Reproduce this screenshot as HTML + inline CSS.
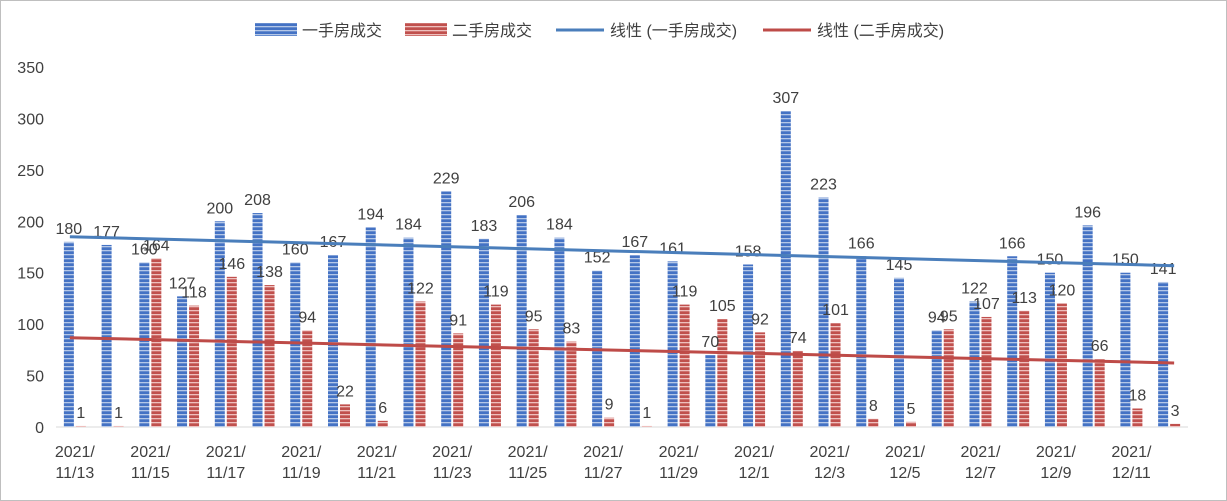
<!DOCTYPE html>
<html><head><meta charset="utf-8">
<style>
body{margin:0;background:#fff;}
svg{display:block;font-family:"Liberation Sans","Noto Sans CJK SC",sans-serif;}
</style></head>
<body>
<svg id="chart" width="1227" height="501" viewBox="0 0 1227 501">
<defs>
<pattern id="pb" width="4" height="4" patternUnits="userSpaceOnUse"><rect width="4" height="4" fill="#4472c4"/><rect y="2" width="4" height="1.3" fill="#b4c7e7"/></pattern>
<pattern id="pr" width="4" height="4" patternUnits="userSpaceOnUse"><rect width="4" height="4" fill="#c0504d"/><rect y="2" width="4" height="1.3" fill="#eebfbd"/></pattern>
</defs>
<rect x="0.5" y="0.5" width="1226" height="500" fill="#fff" stroke="#bfbfbf"/>
<g id="legend" font-size="16" fill="#404040">
<rect x="255" y="23" width="42" height="13" fill="url(#pb)"/>
<text x="302" y="36">一手房成交</text>
<rect x="405" y="23" width="42" height="13" fill="url(#pr)"/>
<text x="452" y="36">二手房成交</text>
<line x1="556" y1="30" x2="604" y2="30" stroke="#4a7ebb" stroke-width="3"/>
<text x="610" y="36">线性 (一手房成交)</text>
<line x1="763" y1="30" x2="811" y2="30" stroke="#be4b48" stroke-width="3"/>
<text x="817" y="36">线性 (二手房成交)</text>
</g>
<g id="plot"></g>
</svg>
<script>
const categories=["11/13","11/14","11/15","11/16","11/17","11/18","11/19","11/20","11/21","11/22","11/23","11/24","11/25","11/26","11/27","11/28","11/29","11/30","12/1","12/2","12/3","12/4","12/5","12/6","12/7","12/8","12/9","12/10","12/11","12/12"];
const firstHand=[180,177,160,127,200,208,160,167,194,184,229,183,206,184,152,167,161,70,158,307,223,166,145,94,122,166,150,196,150,141];
const secondHand=[1,1,164,118,146,138,94,22,6,122,91,119,95,83,9,1,119,105,92,74,101,8,5,95,107,113,120,66,18,3];
const yTicks=[0,50,100,150,200,250,300,350];
const NS="http://www.w3.org/2000/svg";
const g=document.getElementById('plot');
const L=56,R=1188,Y0=427,Y1=67,YMAX=350;
const bw=(R-L)/categories.length;
const x=i=>L+bw*(i+0.5);
const y=v=>Y0-(v/YMAX)*(Y0-Y1);
function mk(t,a){const e=document.createElementNS(NS,t);for(const k in a)e.setAttribute(k,a[k]);g.appendChild(e);return e;}
yTicks.forEach(t=>{const e=mk('text',{x:44,y:y(t)+6,'text-anchor':'end','font-size':16,fill:'#404040'});e.textContent=t;

});
const ax=mk('line',{x1:L,y1:Y0,x2:R,y2:Y0,stroke:'#d9d9d9'});


const W=10;
categories.forEach((c,i)=>{
 const cx=x(i);
 const b1=mk('rect',{x:cx-W-1,y:y(firstHand[i]),width:W,height:Y0-y(firstHand[i]),fill:'url(#pb)'});
 
 
 const b2=mk('rect',{x:cx+1,y:y(secondHand[i]),width:W,height:Y0-y(secondHand[i]),fill:'url(#pr)'});
 
 
 const t1=mk('text',{x:cx-W/2-1,y:y(firstHand[i])-8,'text-anchor':'middle','font-size':16,fill:'#404040'});t1.textContent=firstHand[i];
 
 
 const t2=mk('text',{x:cx+W/2+1,y:y(secondHand[i])-8,'text-anchor':'middle','font-size':16,fill:'#404040'});t2.textContent=secondHand[i];
 
 
 if(i%2===0){
  const a=mk('text',{x:cx,y:457,'text-anchor':'middle','font-size':16,fill:'#404040'});a.textContent='2021/';
  
  
  const b=mk('text',{x:cx,y:478,'text-anchor':'middle','font-size':16,fill:'#404040'});b.textContent=c;
  
  
 }
});
function trend(arr,color,name){
 const n=arr.length;let sx=0,sy=0,sxy=0,sxx=0;
 arr.forEach((v,i)=>{sx+=i;sy+=v;sxy+=i*v;sxx+=i*i;});
 const m=(n*sxy-sx*sy)/(n*sxx-sx*sx),b=(sy-m*sx)/n;
 const l=mk('line',{x1:x(0)-W/2,y1:y(b),x2:x(n-1)+W/2,y2:y(b+m*(n-1)),stroke:color,'stroke-width':3});
 
 
}
trend(firstHand,'#4a7ebb','trend-line-first');
trend(secondHand,'#be4b48','trend-line-second');
</script>
</body></html>
